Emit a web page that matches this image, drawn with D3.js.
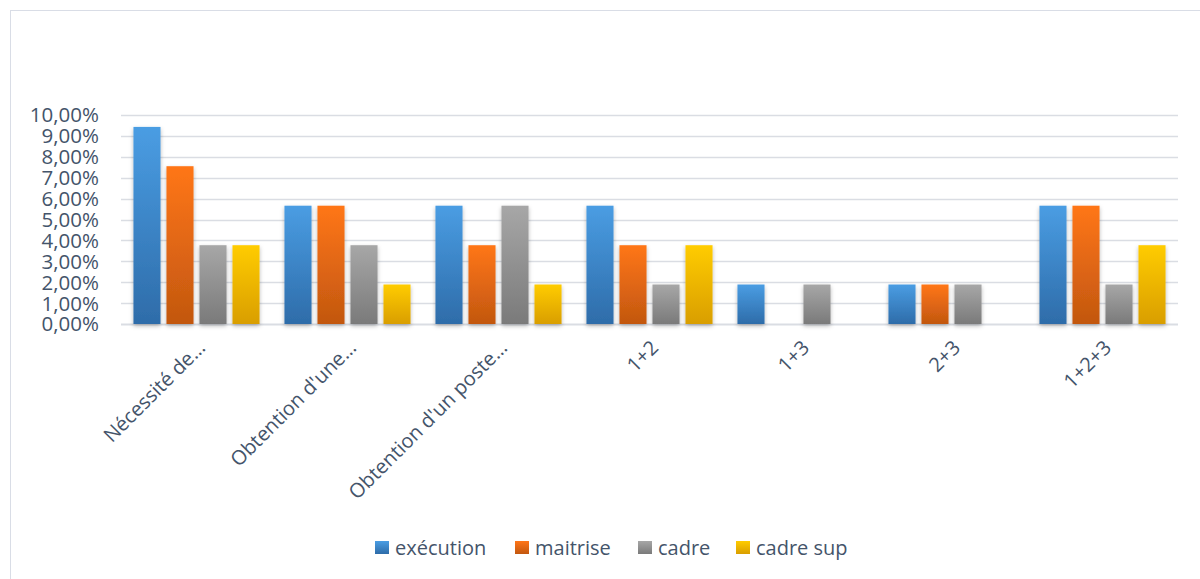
<!DOCTYPE html>
<html>
<head>
<meta charset="utf-8">
<script src="https://cdn.jsdelivr.net/npm/d3@7"></script>
<style>
  html, body { margin: 0; padding: 0; background: #fff; }
  svg { display: block; }
  text { font-family: "Open Sans", "Noto Sans", sans-serif; fill: #44546a; }
</style>
</head>
<body>
<svg id="chart" width="1200" height="579"></svg>
<script>
// Motivations (categories on the x axis)
const categories = [
  "Nécessité de…",
  "Obtention d'une…",
  "Obtention d'un poste…",
  "1+2",
  "1+3",
  "2+3",
  "1+2+3"
];

// Staff levels (series)
const seriesNames = ["exécution", "maitrise", "cadre", "cadre sup"];

// Share of respondents (%) per category, one array per series
const execution = [9.43, 5.66, 5.66, 5.66, 1.89, 1.89, 5.66];
const maitrise  = [7.55, 5.66, 3.77, 3.77, 0,    1.89, 5.66];
const cadre     = [3.77, 3.77, 5.66, 1.89, 1.89, 1.89, 1.89];
const cadreSup  = [3.77, 1.89, 1.89, 3.77, 0,    0,    3.77];

// Y axis ticks
const yTicks = [0, 1, 2, 3, 4, 5, 6, 7, 8, 9, 10];

const seriesValues = [execution, maitrise, cadre, cadreSup];

// Gradient stops (top, bottom) for each series
const seriesColors = [
  ["#4a9de3", "#2e6ca9"],
  ["#ff7619", "#c2570f"],
  ["#a7a7a7", "#7a7a7a"],
  ["#ffcc00", "#d99e00"]
];

const svg = d3.select("#chart");

// Outer chart frame
svg.append("rect")
  .attr("x", 10.5).attr("y", 10.5)
  .attr("width", 1210).attr("height", 600)
  .attr("fill", "none")
  .attr("stroke", "#d9dde6")
  .attr("stroke-width", 1);

const defs = svg.append("defs");
seriesColors.forEach((c, i) => {
  const g = defs.append("linearGradient")
    .attr("id", "grad" + i)
    .attr("x1", 0).attr("y1", 0).attr("x2", 0).attr("y2", 1);
  g.append("stop").attr("offset", "0%").attr("stop-color", c[0]);
  g.append("stop").attr("offset", "100%").attr("stop-color", c[1]);
});
const shadow = defs.append("filter")
  .attr("id", "shadow")
  .attr("x", "-30%").attr("y", "-10%")
  .attr("width", "160%").attr("height", "130%");
shadow.append("feDropShadow")
  .attr("dx", 0).attr("dy", 2)
  .attr("stdDeviation", 2)
  .attr("flood-color", "#000")
  .attr("flood-opacity", 0.28);

const plot = { left: 121, right: 1178, top: 115, bottom: 324 };

const x0 = d3.scaleBand()
  .domain(categories)
  .range([plot.left, plot.right])
  .paddingInner(0.165)
  .paddingOuter(0.0825);

const x1 = d3.scaleBand()
  .domain(seriesNames)
  .range([0, x0.bandwidth()])
  .paddingInner(0.18)
  .paddingOuter(0);

const y = d3.scaleLinear()
  .domain([0, 10])
  .range([plot.bottom, plot.top]);

// Gridlines
svg.append("g")
  .selectAll("line")
  .data(yTicks)
  .join("line")
  .attr("x1", plot.left).attr("x2", plot.right)
  .attr("y1", d => Math.round(y(d)) + 0.5)
  .attr("y2", d => Math.round(y(d)) + 0.5)
  .attr("stroke", "#dadde3")
  .attr("stroke-width", d => d === 0 ? 2 : 1.5);

// Y axis labels
const fmt = v => v.toFixed(2).replace(".", ",") + "%";
const yAxis = d3.axisLeft(y)
  .tickValues(yTicks)
  .tickFormat(fmt)
  .tickSize(0)
  .tickPadding(0);
const yg = svg.append("g")
  .attr("transform", `translate(${plot.left - 22},0)`)
  .call(yAxis);
yg.select(".domain").remove();
yg.selectAll("text")
  .attr("font-size", 20.5)
  .attr("fill", "#44546a")
  .attr("dy", "0.34em")
  .style("font-family", "'Open Sans', sans-serif");

// Bars
const groups = svg.append("g")
  .selectAll("g")
  .data(categories)
  .join("g")
  .attr("transform", d => `translate(${x0(d)},0)`);

groups.selectAll("rect")
  .data((d, i) => seriesNames.map((s, j) => ({ s, j, v: seriesValues[j][i] })))
  .join("rect")
  .filter(d => d.v > 0)
  .attr("x", d => x1(d.s))
  .attr("width", x1.bandwidth())
  .attr("y", d => y(d.v))
  .attr("height", d => y(0) - y(d.v))
  .attr("fill", d => `url(#grad${d.j})`)
  .attr("filter", "url(#shadow)");

// X axis labels, rotated
const xAxis = d3.axisBottom(x0).tickSize(0).tickPadding(0);
const xg = svg.append("g")
  .attr("transform", `translate(0,${plot.bottom})`)
  .call(xAxis);
xg.select(".domain").remove();
xg.selectAll("text")
  .attr("font-size", 20)
  .attr("fill", "#44546a")
  .attr("text-anchor", "end")
  .attr("y", 0)
  .attr("dy", 0)
  .attr("transform", "translate(10,25) rotate(-45)")
  .style("font-family", "'Open Sans', sans-serif");

// Legend
const legendX = [375, 515, 638, 736];
const legend = svg.append("g");
const items = legend.selectAll("g")
  .data(seriesNames)
  .join("g")
  .attr("transform", (d, i) => `translate(${legendX[i]},541)`);
items.append("rect")
  .attr("width", 14).attr("height", 13)
  .attr("fill", (d, i) => `url(#grad${i})`);
items.append("text")
  .attr("x", 20).attr("y", 14)
  .attr("font-size", 20)
  .text(d => d);
</script>
</body>
</html>
